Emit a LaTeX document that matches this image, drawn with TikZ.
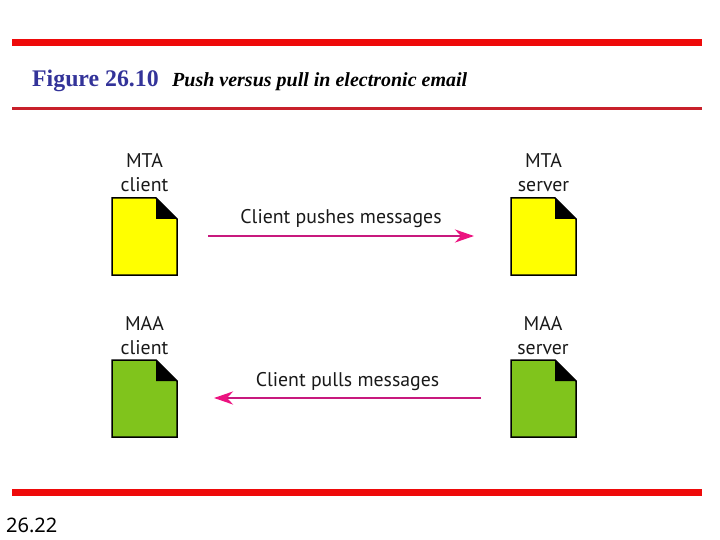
\documentclass[tikz,border=0pt]{standalone}
\usepackage{fontspec}
\setmainfont{Liberation Serif}
\newfontfamily\labelfont{PT Sans}
\newfontfamily\pagefont{Noto Sans}
\usepackage{xcolor}
\usetikzlibrary{arrows.meta}
\definecolor{barred}{HTML}{EE0A0A}
\definecolor{thinred}{HTML}{C8202A}
\definecolor{titleblue}{HTML}{333399}
\definecolor{arrowpink}{HTML}{C8197E}
\definecolor{tippink}{HTML}{EC1380}
\definecolor{docyellow}{HTML}{FFFF00}
\definecolor{docgreen}{HTML}{80C41C}

\begin{document}
\begin{tikzpicture}[x=1pt,y=-1pt,
    lbl/.style={font=\labelfont\fontsize{19.8}{24}\selectfont,align=center,text=black!90,inner sep=0pt},
    push/.style={arrowpink,line width=2.7pt,-{Stealth[length=19pt,width=13pt,inset=6pt,color=tippink]}}]
                \useasboundingbox (0,0) rectangle (720,540);

                % bars
                \fill[barred] (12,39) rectangle (702,46);
                \fill[thinred] (12,107) rectangle (702,110);
                \fill[barred] (12,489) rectangle (702,496);

                % title
                \node[anchor=base west,inner sep=0pt,text=titleblue,font=\bfseries\fontsize{23.8}{26}\selectfont] (figno) at (32,87) {Figure 26.10};
                \node[anchor=base west,inner sep=0pt,font=\bfseries\itshape\fontsize{20}{22}\selectfont] (figtitle) at (172,87) {Push versus pull in electronic email};
                \node[anchor=base west,inner sep=0pt,font=\pagefont\fontsize{20}{22}\selectfont] (pageno) at (6,532) {26.22};

                % documents
                \foreach \px/\py/\col in {112/198/docyellow,511/198/docyellow,112/360/docgreen,511/360/docgreen}{
                    \draw[fill=\col,line width=1.5pt] (\px,\py) -- ({\px+44},\py) -- ({\px+65},{\py+21}) -- ({\px+65},{\py+77}) -- (\px,{\py+77}) -- cycle;
                    \fill[black] ({\px+44},\py) -- ({\px+65},{\py+21}) -- ({\px+44},{\py+21}) -- cycle;
                }

                % labels
                \node[lbl] (mtaclient) at (144.5,173) {MTA\\client};
                \node[lbl] (mtaserver) at (543.5,173) {MTA\\server};
                \node[lbl] (maaclient) at (144.5,336) {MAA\\client};
                \node[lbl] (maaserver) at (543,336) {MAA\\server};
                \node[lbl] (pushes) at (341,219) {Client pushes messages};
                \node[lbl] (pulls) at (347.5,382) {Client pulls messages};

                % arrows
                \coordinate (pushstart) at (208,236);
                \coordinate (pushend) at (474,236);
                \coordinate (pullstart) at (481,398);
                \coordinate (pullend) at (214,398);
                \draw[push] (pushstart) -- (pushend);
                \draw[push] (pullstart) -- (pullend);
            \end{tikzpicture}
\end{document}
